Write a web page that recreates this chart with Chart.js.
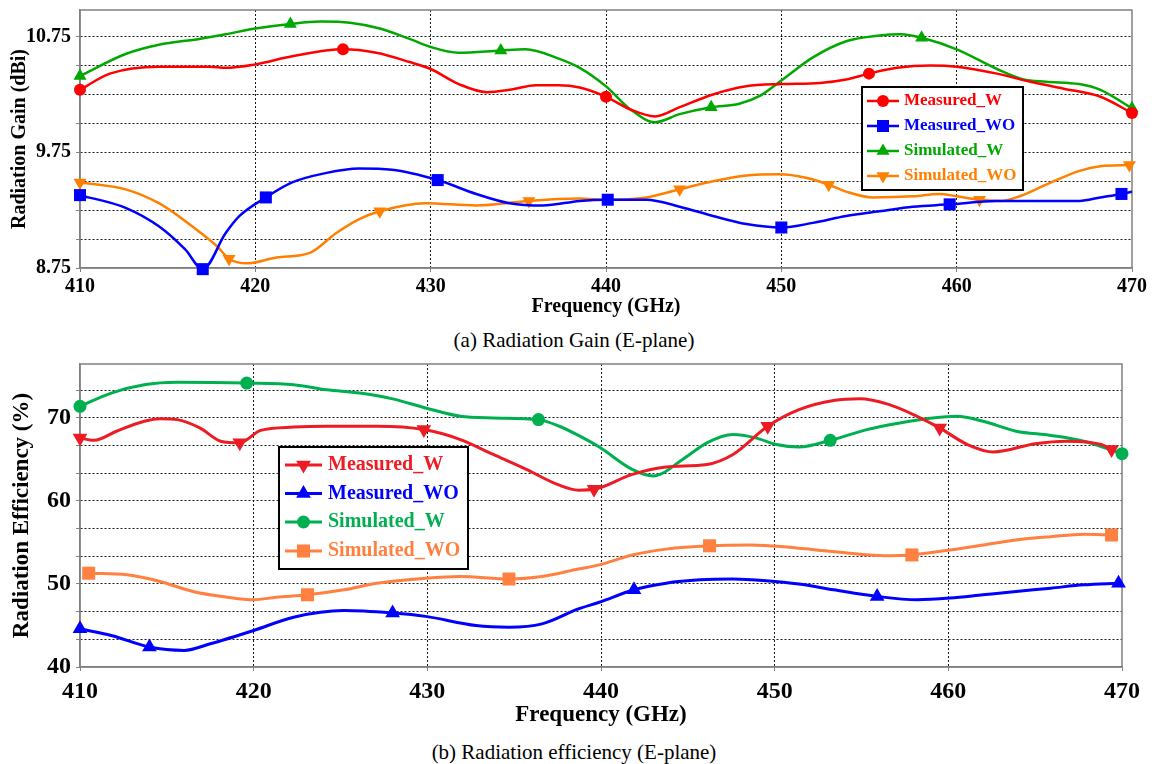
<!DOCTYPE html>
<html>
<head>
<meta charset="utf-8">
<script src="https://cdn.jsdelivr.net/npm/chart.js@4.4.1/dist/chart.umd.min.js"></script>
<style>
  body { margin: 0; background: #fff; width: 1157px; height: 764px; position: relative; overflow: hidden; }
  canvas { position: absolute; left: 0; }
  #gainChart { top: 0; }
  #effChart { top: 350px; }
  .caption { position: absolute; left: 0; width: 1148px; text-align: center;
             font-family: "Liberation Serif", "Times New Roman", serif; font-size: 21px; line-height: 24px; color: #000; }
</style>
</head>
<body>
<canvas id="gainChart" width="1157" height="322"></canvas>
<div class="caption" style="top:328px">(a) Radiation Gain (E-plane)</div>
<canvas id="effChart" width="1157" height="380"></canvas>
<div class="caption" style="top:740px">(b) Radiation efficiency (E-plane)</div>
<script>
const SERIF = '"Liberation Serif", "Times New Roman", serif';

const freqTicks = [410, 420, 430, 440, 450, 460, 470];

const gainMeasuredW = [[410,10.29],[411.7,10.43],[414.5,10.49],[417.4,10.49],[418.3,10.48],[420,10.51],[422.1,10.58],[425,10.64],[426.9,10.61],[428.8,10.53],[430,10.47],[431.6,10.34],[433.2,10.27],[434.5,10.29],[436,10.33],[437.3,10.33],[438.5,10.31],[440,10.23],[441.4,10.12],[442.8,10.06],[444.2,10.14],[446.1,10.25],[448,10.32],[450,10.34],[452.2,10.35],[453.7,10.38],[455,10.43],[456.6,10.48],[458.5,10.50],[460,10.49],[462.3,10.43],[464.2,10.36],[466.1,10.30],[468.2,10.23],[470,10.09]];
const gainMeasuredWMarks = [[410,10.29],[425,10.64],[440,10.23],[455,10.43],[470,10.09]];

const gainMeasuredWO = [[410,9.38],[412.6,9.27],[414.5,9.11],[416,8.91],[417,8.74],[418.3,9.05],[419.1,9.20],[420.6,9.36],[422.1,9.49],[424,9.57],[425.9,9.61],[427.8,9.60],[430.4,9.51],[432.6,9.39],[434.5,9.31],[436.4,9.29],[438.5,9.33],[440.1,9.34],[442.3,9.34],[444.2,9.28],[446.1,9.20],[448,9.13],[450,9.10],[451.8,9.14],[453.7,9.20],[455.6,9.24],[457.5,9.28],[459.6,9.30],[462.3,9.33],[465.1,9.33],[467,9.33],[468.2,9.36],[469.4,9.39],[470,9.41]];
const gainMeasuredWOMarks = [[410,9.38],[417,8.74],[420.6,9.36],[430.4,9.51],[440.1,9.34],[450,9.10],[459.6,9.30],[469.4,9.39]];

const gainSimulatedW = [[410,10.41],[412.6,10.60],[414.5,10.68],[416.8,10.73],[418.3,10.77],[420,10.82],[422,10.86],[423.7,10.88],[425.4,10.87],[427.1,10.82],[428.8,10.73],[430,10.66],[431.6,10.61],[434,10.63],[435.4,10.64],[437.3,10.56],[438.5,10.48],[440,10.32],[441.4,10.12],[442.8,10.01],[444.2,10.08],[446,10.14],[447.6,10.17],[448.8,10.24],[450,10.37],[451.8,10.57],[453.7,10.71],[455.6,10.76],[456.8,10.77],[458,10.74],[460,10.64],[462.3,10.47],[463.8,10.38],[465.1,10.36],[467,10.34],[468.2,10.29],[470,10.13]];
const gainSimulatedWMarks = [[410,10.41],[422,10.86],[434,10.63],[446,10.14],[458,10.74],[470,10.13]];

const gainSimulatedWO = [[410,9.49],[412.6,9.43],[414.5,9.31],[416.4,9.11],[417.8,8.94],[418.5,8.83],[419.5,8.79],[421.2,8.84],[423.1,8.88],[424.6,9.05],[425.9,9.17],[427.1,9.24],[429.7,9.31],[432.6,9.29],[435.6,9.33],[438.5,9.35],[440,9.34],[442.3,9.36],[444.2,9.43],[446.1,9.50],[448,9.55],[449.9,9.56],[451.4,9.53],[452.7,9.47],[453.7,9.41],[455.2,9.36],[457.5,9.37],[459,9.39],[460,9.37],[461.3,9.34],[462.5,9.33],[463.6,9.37],[465.1,9.47],[467,9.59],[468.2,9.63],[469.85,9.64]];
const gainSimulatedWOMarks = [[410,9.49],[418.5,8.83],[427.1,9.24],[435.6,9.33],[444.2,9.43],[452.7,9.47],[461.3,9.34],[469.85,9.64]];

const gainGrid = [8.75, 9, 9.25, 9.5, 9.75, 10, 10.25, 10.5, 10.75];
const gainLabels = [8.75, 9.75, 10.75];

// (b) efficiency in %
const effMeasuredW = [[410,67.6],[410.8,67.3],[412.1,68.4],[413.7,69.6],[414.6,69.9],[415.6,69.8],[416.9,68.8],[418.1,67.2],[419.2,67.0],[420.4,68.5],[422.3,68.9],[424.2,69.0],[427.1,69.0],[429.8,68.6],[431.9,67.4],[433.8,65.6],[435.7,63.8],[437.6,61.9],[438.7,61.3],[439.6,61.4],[441.8,63.2],[443.75,64.1],[446.1,64.4],[447.6,65.6],[449.6,69.0],[451.4,71.0],[453.4,72.1],[454.9,72.3],[456.6,71.6],[458.2,70.2],[459.5,68.8],[461.1,66.8],[462.6,65.9],[465,66.9],[466.8,67.2],[468.8,66.8],[469.4,66.2]];
const effMeasuredWMarks = [[410,67.6],[419.2,67.0],[429.8,68.6],[439.6,61.4],[449.6,69.0],[459.5,68.8],[469.4,66.2]];

const effMeasuredWO = [[410,44.6],[411.8,43.8],[414,42.4],[416,42.0],[417.5,42.8],[420,44.4],[422.3,46.0],[425.2,46.8],[428,46.5],[429.9,46.1],[432.8,45.0],[434.7,44.8],[436.6,45.2],[438.7,47.0],[439.9,47.8],[441.9,49.3],[443.75,50.1],[445.7,50.5],[447.6,50.6],[449.5,50.4],[451.4,50.0],[453.4,49.3],[455.9,48.5],[458.2,48.1],[460.1,48.3],[462,48.7],[463.9,49.1],[465.9,49.5],[467.8,49.9],[469.8,50.1]];
const effMeasuredWOMarks = [[410,44.6],[414,42.4],[428,46.5],[441.9,49.3],[455.9,48.5],[469.8,50.1]];

const effSimulatedW = [[410,71.4],[411.8,73.0],[413.7,74.0],[415.6,74.3],[419.6,74.2],[422.3,74.0],[424.2,73.4],[426.1,73.0],[428,72.3],[429.9,71.2],[431.9,70.2],[433.8,70.0],[436.4,69.8],[437.6,69.0],[438.7,67.9],[439.9,66.5],[441.8,63.8],[443,63.0],[444.7,65.0],[446.1,67.0],[447.6,68.0],[448.9,67.6],[450.1,66.8],[451.4,66.5],[453.2,67.3],[455.3,68.6],[457.2,69.4],[459.1,70.0],[460.5,70.2],[462,69.6],[463.9,68.4],[465.9,67.9],[467.8,67.2],[470,65.7]];
const effSimulatedWMarks = [[410,71.4],[419.6,74.2],[436.4,69.8],[453.2,67.3],[470,65.7]];

const effSimulatedWO = [[410.5,51.3],[412.7,51.1],[414.6,50.3],[416.5,49.1],[418.5,48.4],[420,48.1],[421.3,48.4],[423.1,48.7],[425.2,49.3],[427.1,50.1],[429.9,50.7],[431.9,50.9],[434.7,50.6],[436.6,50.9],[438.7,51.8],[439.9,52.3],[441.8,53.5],[443.75,54.2],[446.25,54.6],[448.6,54.7],[450.5,54.5],[452.4,54.1],[454.3,53.7],[456.3,53.4],[457.9,53.5],[460.1,54.1],[462,54.7],[463.9,55.3],[465.9,55.7],[467.8,56.0],[469.4,55.9]];
const effSimulatedWOMarks = [[410.5,51.3],[423.1,48.7],[434.7,50.6],[446.25,54.6],[457.9,53.5],[469.4,55.9]];

const effGrid = [40, 43.333, 46.667, 50, 53.333, 56.667, 60, 63.333, 66.667, 70, 73.333];
const effLabels = [40, 50, 60, 70];

const gainSeries = [
  { label: 'Measured_W',   color: '#ff0000', style: 'circle',   rot: 0,   r: 6,   curve: gainMeasuredW,   marks: gainMeasuredWMarks },
  { label: 'Measured_WO',  color: '#0000ff', style: 'rect',     rot: 0,   r: 8.5, curve: gainMeasuredWO,  marks: gainMeasuredWOMarks },
  { label: 'Simulated_W',  color: '#00a800', style: 'triangle', rot: 0,   r: 7.5, curve: gainSimulatedW,  marks: gainSimulatedWMarks },
  { label: 'Simulated_WO', color: '#ff8000', style: 'triangle', rot: 180, r: 7.5, curve: gainSimulatedWO, marks: gainSimulatedWOMarks }
];
const effSeries = [
  { label: 'Measured_W',   color: '#ed1c24', style: 'triangle', rot: 180, r: 8.5, curve: effMeasuredW,   marks: effMeasuredWMarks },
  { label: 'Measured_WO',  color: '#0000ff', style: 'triangle', rot: 0,   r: 8.5, curve: effMeasuredWO,  marks: effMeasuredWOMarks },
  { label: 'Simulated_W',  color: '#00b050', style: 'circle',   rot: 0,   r: 6.5, curve: effSimulatedW,  marks: effSimulatedWMarks },
  { label: 'Simulated_WO', color: '#ff8040', style: 'rect',     rot: 0,   r: 9.2, curve: effSimulatedWO, marks: effSimulatedWOMarks }
];

const toXY = pts => pts.map(p => ({ x: p[0], y: p[1] }));

const buildSets = (list, lw) => {
  const sets = [];
  list.forEach(s => {
    sets.push({
      label: s.label, data: toXY(s.curve), borderColor: s.color, borderWidth: lw,
      pointRadius: 0, cubicInterpolationMode: 'monotone', fill: false
    });
    sets.push({
      label: s.label + ' marks', data: toXY(s.marks), showLine: false,
      pointStyle: s.style, rotation: s.rot, pointRadius: s.r, pointHoverRadius: s.r,
      backgroundColor: s.color, borderColor: s.color, borderWidth: 0, clip: false
    });
  });
  return sets;
};

// grey box round the plot area
const frameBox = {
  id: 'frameBox',
  beforeDatasetsDraw(chart) {
    const a = chart.chartArea, ctx = chart.ctx;
    ctx.save();
    ctx.strokeStyle = '#808080';
    ctx.lineWidth = 1.5;
    ctx.strokeRect(a.left, a.top, a.right - a.left, a.bottom - a.top);
    ctx.restore();
  }
};

// legend drawn inside the plot, boxed
const boxLegend = {
  id: 'boxLegend',
  afterDraw(chart, args, o) {
    const ctx = chart.ctx;
    ctx.save();
    ctx.fillStyle = '#fff';
    ctx.fillRect(o.x, o.y, o.w, o.h);
    ctx.strokeStyle = '#000';
    ctx.lineWidth = 2;
    ctx.strokeRect(o.x, o.y, o.w, o.h);
    o.items.forEach((s, i) => {
      const y = o.rows[i];
      ctx.strokeStyle = s.color;
      ctx.lineWidth = o.lw;
      ctx.beginPath();
      ctx.moveTo(o.x1, y);
      ctx.lineTo(o.x2, y);
      ctx.stroke();
      ctx.fillStyle = s.color;
      Chart.helpers.drawPoint(ctx, { pointStyle: s.style, rotation: s.rot, radius: s.r, borderWidth: 0 }, (o.x1 + o.x2) / 2, y);
      ctx.font = 'bold ' + o.size + 'px ' + SERIF;
      ctx.textBaseline = 'middle';
      ctx.textAlign = 'left';
      ctx.fillText(s.label, o.tx, y);
    });
    ctx.restore();
  }
};

const noPad = s => { s.paddingTop = 0; s.paddingBottom = 0; s.paddingLeft = 0; s.paddingRight = 0; };

const makeChart = (id, series, cfg) => new Chart(document.getElementById(id), {
  type: 'line',
  data: { datasets: buildSets(series, cfg.lw) },
  options: {
    responsive: false,
    animation: false,
    layout: { padding: { top: cfg.padTop, right: cfg.padRight, left: 0, bottom: 0 } },
    plugins: {
      legend: { display: false },
      tooltip: { enabled: false },
      boxLegend: Object.assign({ items: series }, cfg.legend)
    },
    scales: {
      x: {
        type: 'linear', min: 410, max: 470,
        afterBuildTicks: s => { s.ticks = freqTicks.map(v => ({ value: v })); },
        afterFit: s => { s.height = cfg.xHeight; noPad(s); },
        ticks: { color: '#000', padding: cfg.xPad, maxRotation: 0, autoSkip: false,
                 font: { family: SERIF, size: cfg.tickSize, weight: 'bold' } },
        grid: {
          color: c => (c.tick && (c.tick.value === 410 || c.tick.value === 470)) ? 'rgba(0,0,0,0)' : '#1a1a1a',
          tickColor: '#808080', tickLength: 4, lineWidth: 1
        },
        border: { color: '#808080', width: 1.5, dash: [2, 2] },
        title: { display: true, text: 'Frequency (GHz)', color: '#000',
                 font: { family: SERIF, size: cfg.titleSize, weight: 'bold' }, padding: { top: 0, bottom: cfg.xTitlePad } }
      },
      y: {
        type: 'linear', min: cfg.yMin, max: cfg.yMax,
        afterBuildTicks: s => { s.ticks = cfg.grid.map(v => ({ value: v })); },
        afterFit: s => { s.width = 80; noPad(s); },
        ticks: {
          color: '#000', padding: 5, autoSkip: false,
          font: { family: SERIF, size: cfg.tickSize, weight: 'bold' },
          callback: v => {
            const hit = cfg.labels.find(l => Math.abs(l - v) < 1e-3);
            return hit === undefined ? '' : cfg.fmt(hit);
          }
        },
        grid: {
          color: c => (c.tick && Math.abs(c.tick.value - cfg.yMin) < 1e-6) ? 'rgba(0,0,0,0)' : '#1a1a1a',
          tickColor: '#808080', tickLength: 4, lineWidth: 1
        },
        border: { color: '#808080', width: 1.5, dash: [2, 2] },
        title: { display: true, text: cfg.yTitle, color: '#000',
                 font: { family: SERIF, size: cfg.titleSize, weight: 'bold' }, padding: { top: 8, bottom: 0 } }
      }
    }
  },
  plugins: [frameBox, boxLegend]
});

makeChart('gainChart', gainSeries, {
  lw: 2.5, padTop: 10, padRight: 25, xHeight: 54, xPad: 3, xTitlePad: 3,
  tickSize: 20, titleSize: 20,
  yMin: 8.75, yMax: 10.98, grid: gainGrid, labels: gainLabels, fmt: v => v.toFixed(2),
  yTitle: 'Radiation Gain (dBi)',
  legend: { x: 862, y: 87, w: 161, h: 103, rows: [101, 126, 151, 176], x1: 867, x2: 899, tx: 904, lw: 2.5, size: 17 }
});

makeChart('effChart', effSeries, {
  lw: 3, padTop: 14, padRight: 35, xHeight: 63, xPad: 6, xTitlePad: 1,
  tickSize: 24, titleSize: 23,
  yMin: 40, yMax: 76.5, grid: effGrid, labels: effLabels, fmt: v => String(v),
  yTitle: 'Radiation Efficiency (%)',
  legend: { x: 279, y: 97, w: 189, h: 122, rows: [115, 143.5, 172, 201], x1: 285, x2: 322, tx: 328, lw: 3, size: 20 }
});
</script>
</body>
</html>
